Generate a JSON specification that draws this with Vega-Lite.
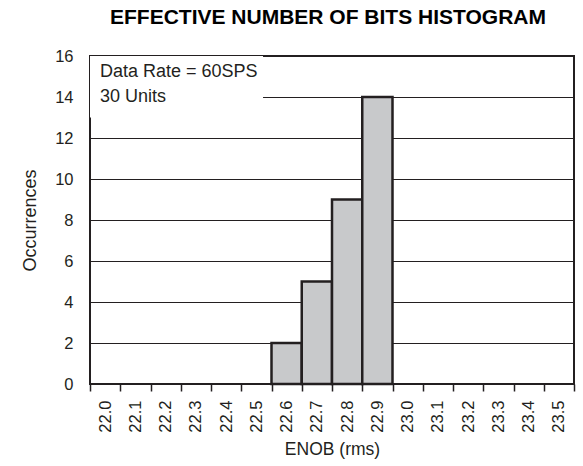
{
  "$schema": "https://vega.github.io/schema/vega-lite/v6.json",
  "width": 484,
  "height": 328,
  "autosize": {"type": "none"},
  "padding": {"left": 90, "top": 56, "right": 9, "bottom": 82},
  "background": "white",
  "config": {
    "font": "Liberation Sans",
    "view": {"stroke": "#231f20", "strokeWidth": 2},
    "axis": {"labelFont": "Liberation Sans", "titleFont": "Liberation Sans", "labelColor": "#231f20", "titleColor": "#231f20"}
  },
  "title": {
    "text": "EFFECTIVE NUMBER OF BITS HISTOGRAM",
    "font": "Liberation Sans",
    "fontSize": 21,
    "fontWeight": "bold",
    "color": "#000000",
    "anchor": "middle",
    "dx": -4,
    "offset": 20
  },
  "datasets": {
    "bins": [
      {"bin": "22.6", "count": 2},
      {"bin": "22.7", "count": 5},
      {"bin": "22.8", "count": 9},
      {"bin": "22.9", "count": 14}
    ],
    "box": [
      {"x": 22.0, "x2": 22.572, "y": 13.0, "y2": 16}
    ],
    "notes": [
      {"x": 22.033, "y": 15.2, "label": "Data Rate = 60SPS"},
      {"x": 22.033, "y": 14.0, "label": "30 Units"}
    ]
  },
  "layer": [
    {
      "data": {"name": "bins"},
      "mark": {"type": "bar", "fill": "#c8c9cb", "stroke": "#231f20", "strokeWidth": 2.5},
      "encoding": {
        "x": {
          "field": "bin",
          "type": "ordinal",
          "scale": {
            "domain": ["22.0","22.1","22.2","22.3","22.4","22.5","22.6","22.7","22.8","22.9","23.0","23.1","23.2","23.3","23.4","23.5"],
            "paddingInner": 0,
            "paddingOuter": 0
          },
          "axis": {
            "title": "ENOB (rms)",
            "titleFontSize": 17.5,
            "titleFontWeight": "normal",
            "titlePadding": 8,
            "labelFontSize": 16.5,
            "labelAngle": 270,
            "labelAlign": "right",
            "labelBaseline": "middle",
            "labelPadding": 9,
            "tickBand": "extent",
            "tickSize": 7,
            "tickColor": "#231f20",
            "tickWidth": 1.5,
            "domain": false,
            "grid": false
          }
        },
        "y": {
          "field": "count",
          "type": "quantitative",
          "scale": {"domain": [0, 16], "nice": false},
          "axis": {
            "title": "Occurrences",
            "titleFontSize": 18,
            "titleFontWeight": "normal",
            "titlePadding": 15,
            "labelFontSize": 16.5,
            "labelPadding": 17,
            "values": [0, 2, 4, 6, 8, 10, 12, 14, 16],
            "ticks": false,
            "domain": false,
            "grid": true,
            "gridColor": "#231f20",
            "gridOpacity": 1,
            "gridWidth": 1
          }
        }
      }
    },
    {
      "data": {"name": "box"},
      "mark": {"type": "rect", "fill": "white", "stroke": null},
      "encoding": {
        "x": {"field": "x", "type": "quantitative", "scale": {"domain": [22.0, 23.6], "nice": false, "zero": false}, "axis": null},
        "x2": {"field": "x2"},
        "y": {"field": "y", "type": "quantitative"},
        "y2": {"field": "y2"}
      }
    },
    {
      "data": {"name": "notes"},
      "mark": {"type": "text", "align": "left", "baseline": "middle", "fontSize": 18, "font": "Liberation Sans", "color": "#231f20"},
      "encoding": {
        "x": {"field": "x", "type": "quantitative", "scale": {"domain": [22.0, 23.6], "nice": false, "zero": false}, "axis": null},
        "y": {"field": "y", "type": "quantitative"},
        "text": {"field": "label"}
      }
    }
  ],
  "resolve": {"scale": {"x": "independent"}}
}
